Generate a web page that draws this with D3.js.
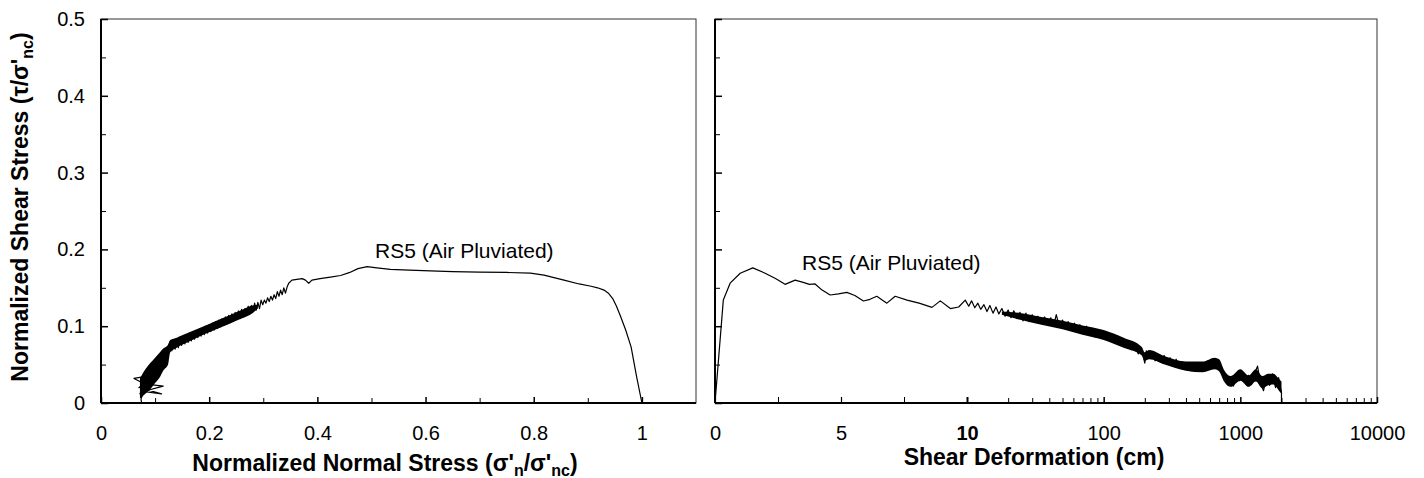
<!DOCTYPE html>
<html>
<head>
<meta charset="utf-8">
<script src="https://cdn.jsdelivr.net/npm/d3@7"></script>
<style>
  body { margin: 0; background: #fff; }
  text { font-family: "Liberation Sans", Arial, sans-serif; fill: #000; }
</style>
</head>
<body>
<svg id="svg"></svg>
<script>
/**
 * CONSTANTS AND GLOBALS
 * */
const width = 1424,
  height = 478,
  plotTop = 19,
  plotBottom = 403;

// left panel: stress path (normalized normal stress -> normalized shear stress)
const pathSmoothN = [1.0, 0.99, 0.98, 0.97, 0.961, 0.953, 0.946, 0.938, 0.93, 0.918, 0.906, 0.884, 0.856, 0.819, 0.794, 0.75, 0.70, 0.65, 0.609, 0.57, 0.535, 0.51, 0.492, 0.475, 0.46, 0.443, 0.424, 0.405, 0.39, 0.384, 0.378, 0.372, 0.362, 0.353, 0.347, 0.344];
const pathSmoothT = [0, 0.035, 0.073, 0.095, 0.112, 0.126, 0.136, 0.143, 0.147, 0.150, 0.152, 0.155, 0.160, 0.1665, 0.169, 0.170, 0.1705, 0.171, 0.172, 0.173, 0.174, 0.176, 0.1775, 0.175, 0.170, 0.166, 0.164, 0.162, 0.160, 0.156, 0.160, 0.162, 0.161, 0.160, 0.156, 0.151];

const pathNoisyN = [0.341, 0.338, 0.335, 0.332, 0.329, 0.326, 0.323, 0.320, 0.317, 0.314, 0.311, 0.308, 0.305, 0.302, 0.299,
  0.296, 0.293, 0.290, 0.287, 0.284, 0.281, 0.278, 0.275, 0.272, 0.269, 0.266, 0.263, 0.260, 0.257, 0.254, 0.251, 0.248, 0.245, 0.242, 0.239,
  0.236, 0.233, 0.230, 0.227, 0.224, 0.221, 0.218, 0.215, 0.212, 0.209, 0.206, 0.203, 0.200, 0.197, 0.194, 0.191, 0.188, 0.185, 0.182, 0.179,
  0.176, 0.173, 0.170, 0.167, 0.164, 0.161, 0.158, 0.155, 0.152, 0.149, 0.146, 0.143, 0.140, 0.137, 0.134, 0.131];
const pathNoisyT = [0.143, 0.150, 0.141, 0.147, 0.139, 0.145, 0.136, 0.141, 0.134, 0.139, 0.132, 0.137, 0.130, 0.134, 0.128,
  0.134, 0.123, 0.131, 0.121, 0.130, 0.119, 0.127, 0.117, 0.126, 0.114, 0.123, 0.113, 0.122, 0.110, 0.120, 0.109, 0.118, 0.107, 0.116, 0.105,
  0.114, 0.103, 0.112, 0.101, 0.110, 0.099, 0.108, 0.097, 0.106, 0.095, 0.104, 0.093, 0.102, 0.091, 0.100, 0.089, 0.098, 0.087, 0.096, 0.085,
  0.094, 0.083, 0.092, 0.081, 0.091, 0.079, 0.089, 0.077, 0.087, 0.075, 0.086, 0.072, 0.084, 0.070, 0.082, 0.068];

const pathClusterN = [0.128, 0.115, 0.125, 0.105, 0.122, 0.098, 0.118, 0.092, 0.112, 0.086, 0.108, 0.082, 0.104, 0.079, 0.100, 0.076, 0.098, 0.074, 0.095, 0.072, 0.092, 0.075, 0.090, 0.070, 0.088, 0.073, 0.085, 0.061, 0.080, 0.115, 0.078, 0.112, 0.080, 0.074, 0.075];
const pathClusterT = [0.080, 0.058, 0.072, 0.045, 0.068, 0.038, 0.066, 0.030, 0.060, 0.025, 0.055, 0.020, 0.050, 0.030, 0.048, 0.018, 0.042, 0.028, 0.035, 0.012, 0.040, 0.022, 0.032, 0.020, 0.028, 0.008, 0.035, 0.032, 0.025, 0.022, 0.015, 0.012, 0.018, 0.005, 0];

// dense part of the stress path, read as a band (lower / upper edge)
const bandN = [0.29, 0.28, 0.26, 0.24, 0.22, 0.20, 0.18, 0.16, 0.14, 0.128, 0.124, 0.115, 0.109, 0.100, 0.091, 0.082, 0.076, 0.072];
const bandNLow = [0.123, 0.117, 0.110, 0.104, 0.098, 0.092, 0.086, 0.079, 0.072, 0.066, 0.050, 0.042, 0.034, 0.026, 0.018, 0.012, 0.008, 0.006];
const bandNHigh = [0.128, 0.127, 0.121, 0.115, 0.109, 0.103, 0.097, 0.091, 0.085, 0.082, 0.076, 0.071, 0.066, 0.059, 0.052, 0.044, 0.037, 0.032];

// right panel: shear deformation (cm) -> normalized shear stress
const deformSmoothD = [0, 0.33, 0.6, 1.0, 1.5, 1.99, 2.4, 2.78, 3.18, 3.5, 3.75, 3.97, 4.25, 4.57, 4.9, 5.23, 5.55, 5.89, 6.15, 6.42, 6.82, 7.15, 7.62, 8.1, 8.61, 8.94, 9.34, 9.67, 9.93];
const deformSmoothT = [0, 0.134, 0.156, 0.169, 0.176, 0.169, 0.162, 0.1545, 0.160, 0.157, 0.1545, 0.155, 0.147, 0.1406, 0.142, 0.144, 0.140, 0.1328, 0.135, 0.139, 0.130, 0.139, 0.134, 0.130, 0.1245, 0.133, 0.123, 0.125, 0.134];

const deformNoisyD = [10.3, 10.8, 11.4, 12, 12.6, 13.3, 14, 14.7, 15.5, 16.3, 17.1, 18, 19, 20, 21, 22, 23.2, 24.4, 25.7, 27, 28.4, 30, 31.5, 33, 35, 37, 39, 41, 43, 45, 47.5, 50, 52.5, 55, 58, 61, 64, 67, 71, 75, 79, 83, 87, 92, 97, 102, 107, 113, 119, 125, 132, 139, 146, 153, 161, 170, 179, 188, 195, 200, 205, 215, 226, 238, 250, 263, 277, 291, 306, 322, 339, 357, 375, 395, 415, 437, 460, 484, 509, 536, 564, 593, 624, 656, 690, 726, 764, 804, 846, 890, 936, 985, 1036, 1090, 1147, 1207, 1270, 1336, 1405, 1478, 1555, 1636, 1721, 1810, 1905, 2000, 2000];
const deformNoisyT = [0.126, 0.133, 0.124, 0.130, 0.122, 0.128, 0.119, 0.127, 0.117, 0.125, 0.116, 0.123, 0.113, 0.121, 0.111, 0.120, 0.110, 0.118, 0.107, 0.117, 0.106, 0.115, 0.105, 0.113, 0.104, 0.112, 0.102, 0.111, 0.100, 0.115, 0.099, 0.108, 0.097, 0.106, 0.095, 0.104, 0.093, 0.102, 0.091, 0.100, 0.088, 0.097, 0.086, 0.095, 0.084, 0.093, 0.082, 0.090, 0.079, 0.087, 0.076, 0.084, 0.073, 0.080, 0.069, 0.076, 0.064, 0.070, 0.060, 0.052, 0.068, 0.058, 0.066, 0.055, 0.063, 0.053, 0.062, 0.050, 0.059, 0.048, 0.057, 0.046, 0.054, 0.044, 0.052, 0.042, 0.051, 0.043, 0.052, 0.043, 0.054, 0.045, 0.057, 0.046, 0.056, 0.040, 0.036, 0.024, 0.032, 0.022, 0.035, 0.029, 0.041, 0.028, 0.036, 0.024, 0.038, 0.048, 0.026, 0.016, 0.034, 0.023, 0.038, 0.020, 0.033, 0.014, 0];

// dense part of the deformation curve, read as a band (lower / upper edge)
const bandD = [18, 25, 35, 50, 70, 100, 140, 190, 200, 215, 280, 400, 530, 650, 700, 760, 850, 1000, 1150, 1300, 1450, 1600, 1750, 1900, 2000];
const bandDLow = [0.115, 0.108, 0.102, 0.096, 0.089, 0.082, 0.072, 0.062, 0.055, 0.057, 0.050, 0.042, 0.040, 0.044, 0.041, 0.028, 0.021, 0.029, 0.021, 0.028, 0.019, 0.023, 0.024, 0.017, 0.012];
const bandDHigh = [0.119, 0.117, 0.112, 0.107, 0.101, 0.095, 0.085, 0.073, 0.066, 0.069, 0.061, 0.054, 0.054, 0.059, 0.057, 0.043, 0.035, 0.044, 0.036, 0.044, 0.035, 0.038, 0.038, 0.032, 0.028];

// ticks
const yMajor = [0, 0.1, 0.2, 0.3, 0.4, 0.5];
const yMinor = [0.05, 0.15, 0.25, 0.35, 0.45];
const nMajor = [0, 0.2, 0.4, 0.6, 0.8, 1];
const nMinor = [0.1, 0.3, 0.5, 0.7, 0.9];
const dLinMajor = [0, 5, 10];
const dLinMinor = [2.5, 7.5];
const dLogMajor = [100, 1000, 10000];
const dLogMinor = [20, 30, 40, 50, 60, 70, 80, 90, 200, 300, 400, 500, 600, 700, 800, 900, 2000, 3000, 4000, 5000, 6000, 7000, 8000, 9000];

const annotation = "RS5 (Air Pluviated)";

let svg;

/**
 * SCALES
 * */
const xN = d3.scaleLinear().domain([0, 1.1]).range([101, 696]);
const xLin = d3.scaleLinear().domain([0, 10]).range([715, 967]);
const xLog = d3.scaleLog().domain([10, 10000]).range([967, 1377]);
const xD = d => d <= 10 ? xLin(d) : xLog(d);
const y = d3.scaleLinear().domain([0, 0.5]).range([plotBottom, plotTop]);

init();

function init() {
  svg = d3.select("#svg")
    .attr("width", width)
    .attr("height", height);

  drawFrame(101, 696);
  drawFrame(715, 1377);

  // y axes
  yAxis(101, true);
  yAxis(715, false);

  // left x axis
  xAxis(d3.axisBottom(xN).tickValues(nMajor).tickSize(-6).tickPadding(23).tickFormat(d => String(d)), 1.5);
  xAxis(d3.axisBottom(xN).tickValues(nMinor).tickSize(-5).tickFormat(""), 1);

  // right x axis: linear up to 10, log after
  const linMaj = xAxis(d3.axisBottom(xLin).tickValues(dLinMajor).tickSize(-6).tickPadding(23).tickFormat(d => String(d)), 1.2);
  linMaj.selectAll("text").attr("font-weight", d => d === 10 ? "bold" : null);
  linMaj.selectAll("line").attr("stroke-width", d => d === 10 ? 2 : 1.2);
  xAxis(d3.axisBottom(xLin).tickValues(dLinMinor).tickSize(-6).tickFormat(""), 1);
  xAxis(d3.axisBottom(xLog).tickValues(dLogMajor).tickSize(-6).tickPadding(23).tickFormat(d => String(d)), 1.5);
  xAxis(d3.axisBottom(xLog).tickValues(dLogMinor).tickSize(-5).tickFormat(""), 1);

  draw();
  labels();
}

function drawFrame(x0, x1) {
  svg.append("rect")
    .attr("x", x0).attr("y", plotTop)
    .attr("width", x1 - x0).attr("height", plotBottom - plotTop)
    .attr("fill", "none").attr("stroke", "#333").attr("stroke-width", 1);
  svg.append("line")
    .attr("x1", x0).attr("x2", x0).attr("y1", plotTop).attr("y2", plotBottom)
    .attr("stroke", "#000").attr("stroke-width", 2);
  svg.append("line")
    .attr("x1", x0).attr("x2", x1).attr("y1", plotBottom).attr("y2", plotBottom)
    .attr("stroke", "#000").attr("stroke-width", 2);
}

function yAxis(x0, withLabels) {
  const major = svg.append("g")
    .attr("transform", `translate(${x0},0)`)
    .call(d3.axisLeft(y).tickValues(yMajor).tickSize(-7).tickPadding(16)
      .tickFormat(d => withLabels ? String(d) : ""));
  major.select(".domain").remove();
  major.selectAll("line").attr("stroke", "#000").attr("stroke-width", 1.5);
  major.selectAll("text").attr("font-size", 20).attr("font-family", "Liberation Sans, Arial, sans-serif");

  const minor = svg.append("g")
    .attr("transform", `translate(${x0},0)`)
    .call(d3.axisLeft(y).tickValues(yMinor).tickSize(-5).tickFormat(""));
  minor.select(".domain").remove();
  minor.selectAll("line").attr("stroke", "#000").attr("stroke-width", 1);
}

function xAxis(axis, sw) {
  const g = svg.append("g")
    .attr("transform", `translate(0,${plotBottom})`)
    .call(axis);
  g.select(".domain").remove();
  g.selectAll("line").attr("stroke", "#000").attr("stroke-width", sw);
  g.selectAll("text").attr("font-size", 20).attr("font-family", "Liberation Sans, Arial, sans-serif");
  return g;
}

function draw() {
  const leftData = d3.zip(
    pathSmoothN.concat(pathNoisyN, pathClusterN),
    pathSmoothT.concat(pathNoisyT, pathClusterT)
  );
  const rightData = d3.zip(
    deformSmoothD.concat(deformNoisyD),
    deformSmoothT.concat(deformNoisyT)
  );

  // dense bands first, the traced curve on top
  const leftBand = d3.area()
    .x(d => xN(d[0])).y0(d => y(d[1])).y1(d => y(d[2]))
    .curve(d3.curveMonotoneX);
  const rightBand = d3.area()
    .x(d => xD(d[0])).y0(d => y(d[1])).y1(d => y(d[2]))
    .curve(d3.curveMonotoneX);

  svg.append("path")
    .datum(d3.zip(bandN, bandNLow, bandNHigh).reverse())
    .attr("d", leftBand)
    .attr("fill", "#000");

  svg.append("path")
    .datum(d3.zip(bandD, bandDLow, bandDHigh))
    .attr("d", rightBand)
    .attr("fill", "#000");

  const leftLine = d3.line().x(d => xN(d[0])).y(d => y(d[1]));
  const rightLine = d3.line().x(d => xD(d[0])).y(d => y(d[1]));

  svg.append("path")
    .datum(leftData)
    .attr("d", leftLine)
    .attr("fill", "none")
    .attr("stroke", "#000")
    .attr("stroke-width", 1.2)
    .attr("stroke-linejoin", "round");

  svg.append("path")
    .datum(rightData)
    .attr("d", rightLine)
    .attr("fill", "none")
    .attr("stroke", "#000")
    .attr("stroke-width", 1.2)
    .attr("stroke-linejoin", "round");
}

function labels() {
  // annotations
  svg.append("text").attr("x", 375).attr("y", 258).attr("font-size", 21).text(annotation);
  svg.append("text").attr("x", 802).attr("y", 270).attr("font-size", 21).text(annotation);

  // y title
  const yt = svg.append("text")
    .attr("transform", "translate(28,207) rotate(-90)")
    .attr("text-anchor", "middle")
    .attr("font-size", 23)
    .attr("font-weight", "bold");
  yt.append("tspan").text("Normalized Shear Stress (\u03c4/\u03c3'");
  yt.append("tspan").attr("font-size", 16).attr("dy", 5).text("nc");
  yt.append("tspan").attr("dy", -5).text(")");

  // left x title
  const xt = svg.append("text")
    .attr("x", 385).attr("y", 471)
    .attr("text-anchor", "middle")
    .attr("font-size", 23)
    .attr("font-weight", "bold");
  xt.append("tspan").text("Normalized Normal Stress (\u03c3'");
  xt.append("tspan").attr("font-size", 16).attr("dy", 5).text("n");
  xt.append("tspan").attr("dy", -5).text("/\u03c3'");
  xt.append("tspan").attr("font-size", 16).attr("dy", 5).text("nc");
  xt.append("tspan").attr("dy", -5).text(")");

  // right x title
  svg.append("text")
    .attr("x", 1034).attr("y", 465)
    .attr("text-anchor", "middle")
    .attr("font-size", 23)
    .attr("font-weight", "bold")
    .text("Shear Deformation (cm)");
}
</script>
</body>
</html>
